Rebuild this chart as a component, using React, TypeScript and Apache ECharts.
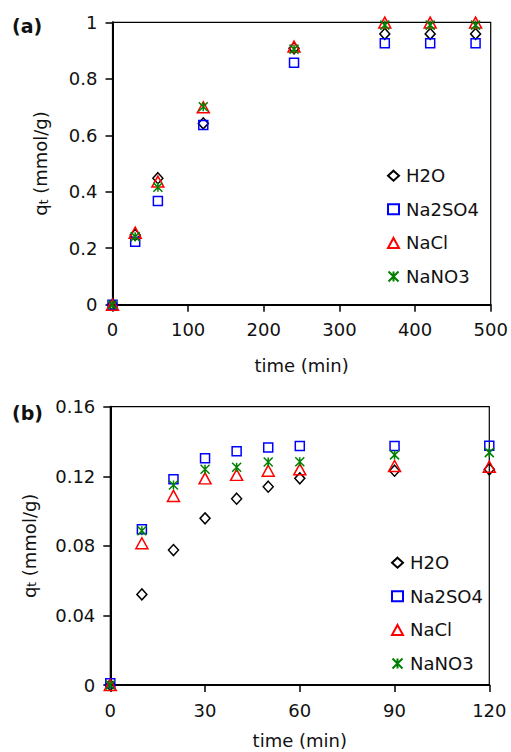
import React, { useEffect, useRef } from "react";
import * as echarts from "echarts";

const seriesNames = ["H2O", "Na2SO4", "NaCl", "NaNO3"];

const timeA = [0, 30, 60, 120, 240, 360, 420, 480];
const h2oA = [0, 0.247, 0.448, 0.642, 0.908, 0.959, 0.959, 0.959];
const na2so4A = [0, 0.223, 0.367, 0.636, 0.857, 0.926, 0.926, 0.926];
const naclA = [0, 0.255, 0.436, 0.699, 0.914, 0.999, 0.999, 0.999];
const nano3A = [0, 0.241, 0.416, 0.701, 0.905, 0.99, 0.99, 0.99];

const timeB = [0, 10, 20, 30, 40, 50, 60, 90, 120];
const h2oB = [0, 0.0521, 0.0776, 0.0958, 0.1071, 0.114, 0.1188, 0.1232, 0.124];
const na2so4B = [0.001, 0.0895, 0.1183, 0.1303, 0.1344, 0.1365, 0.1374, 0.1374, 0.1376];
const naclB = [0, 0.0815, 0.1087, 0.1188, 0.1208, 0.1232, 0.124, 0.1259, 0.1255];
const nano3B = [0, 0.0887, 0.115, 0.124, 0.1252, 0.1282, 0.1284, 0.1323, 0.1336];

const FONT = "'DejaVu Sans', Verdana, sans-serif";
const TXT = "#111";
const FS = 18;

const styles = [
  { symbol: "diamond", size: [10, 11], color: "#000000" },
  { symbol: "rect", size: 9, color: "#0000ff" },
  { symbol: "triangle", size: [12, 11], color: "#ff0000" },
  { symbol: "path://M0,0L10,10M10,0L0,10M5,0L5,10", size: 9, color: "#008000" },
];

function makeSeries(idx: number, xs: number[], ysList: number[][]) {
  return ysList.map((ys, i) => ({
    type: "scatter",
    name: seriesNames[i],
    xAxisIndex: idx,
    yAxisIndex: idx,
    symbol: styles[i].symbol,
    symbolSize: styles[i].size,
    symbolKeepAspect: false,
    clip: false,
    itemStyle: {
      color: "none",
      borderColor: styles[i].color,
      borderWidth: 1.5,
      opacity: 1,
    },
    emphasis: { disabled: true },
    data: xs.map((x, k) => [x, ys[k]]),
  }));
}

function fmt(v: number) {
  return String(Math.round(v * 1000) / 1000);
}

function xAxis(gridIndex: number, max: number, interval: number, nameGap: number) {
  return {
    type: "value",
    gridIndex,
    min: 0,
    max,
    interval,
    name: "time (min)",
    nameLocation: "middle",
    nameGap,
    nameTextStyle: { fontSize: FS, color: TXT, fontFamily: FONT },
    axisLine: { show: true, onZero: false, lineStyle: { color: "#000", width: 2 } },
    axisTick: { show: true, inside: false, length: 7, lineStyle: { color: "#000", width: 1.5 } },
    axisLabel: { fontSize: FS, color: TXT, fontFamily: FONT, margin: 16, formatter: fmt },
    splitLine: { show: false },
  };
}

function yAxis(gridIndex: number, max: number, interval: number, nameGap: number) {
  return {
    type: "value",
    gridIndex,
    min: 0,
    max,
    interval,
    name: "{a|q}{s|t}{a| (mmol/g)}",
    nameLocation: "middle",
    nameGap,
    nameTextStyle: {
      fontSize: FS,
      color: TXT,
      fontFamily: FONT,
      rich: {
        a: { fontSize: FS, color: TXT, fontFamily: FONT, lineHeight: 24, verticalAlign: "bottom" },
        s: { fontSize: 12, color: TXT, fontFamily: FONT, lineHeight: 24, verticalAlign: "bottom" },
      },
    },
    axisLine: { show: true, onZero: false, lineStyle: { color: "#000", width: 2 } },
    axisTick: { show: true, inside: false, length: 7, lineStyle: { color: "#000", width: 1.5 } },
    axisLabel: { fontSize: FS, color: TXT, fontFamily: FONT, margin: 15, formatter: fmt },
    splitLine: { show: false },
  };
}

function legend(left: number, top: number) {
  return {
    orient: "vertical",
    left,
    top,
    itemWidth: 11,
    itemHeight: 10,
    itemGap: 13.6,
    selectedMode: false,
    textStyle: { fontSize: FS, color: TXT, fontFamily: FONT, lineHeight: 20, padding: [0, 0, 0, 2] },
    data: seriesNames,
  };
}

export default function App() {
  const ref = useRef<HTMLDivElement>(null);
  useEffect(() => {
    document.body.style.margin = "0";
    if (!ref.current) return;
    const chart = echarts.init(ref.current, null, { renderer: "svg" });
    chart.setOption({
      animation: false,
      backgroundColor: "#ffffff",
      grid: [
        { left: 112.5, top: 22.3, width: 378.2, height: 282.4, show: true, borderColor: "#000", borderWidth: 1.2, backgroundColor: "transparent" },
        { left: 110.3, top: 406.7, width: 379, height: 278.3, show: true, borderColor: "#000", borderWidth: 1.2, backgroundColor: "transparent" },
      ],
      xAxis: [xAxis(0, 500, 100, 52), xAxis(1, 120, 30, 46)],
      yAxis: [yAxis(0, 1, 0.2, 63), yAxis(1, 0.16, 0.04, 72)],
      legend: [legend(380.5, 160.7), legend(384.5, 547.7)],
      graphic: [
        { type: "text", left: 12, top: 16, style: { text: "(a)", fontSize: 19, fontWeight: "bold", fill: TXT, fontFamily: FONT } },
        { type: "text", left: 12, top: 403, style: { text: "(b)", fontSize: 19, fontWeight: "bold", fill: TXT, fontFamily: FONT } },
      ],
      series: [
        ...makeSeries(0, timeA, [h2oA, na2so4A, naclA, nano3A]),
        ...makeSeries(1, timeB, [h2oB, na2so4B, naclB, nano3B]),
      ],
    });
    return () => chart.dispose();
  }, []);
  return <div ref={ref} style={{ width: 511, height: 752 }} />;
}
